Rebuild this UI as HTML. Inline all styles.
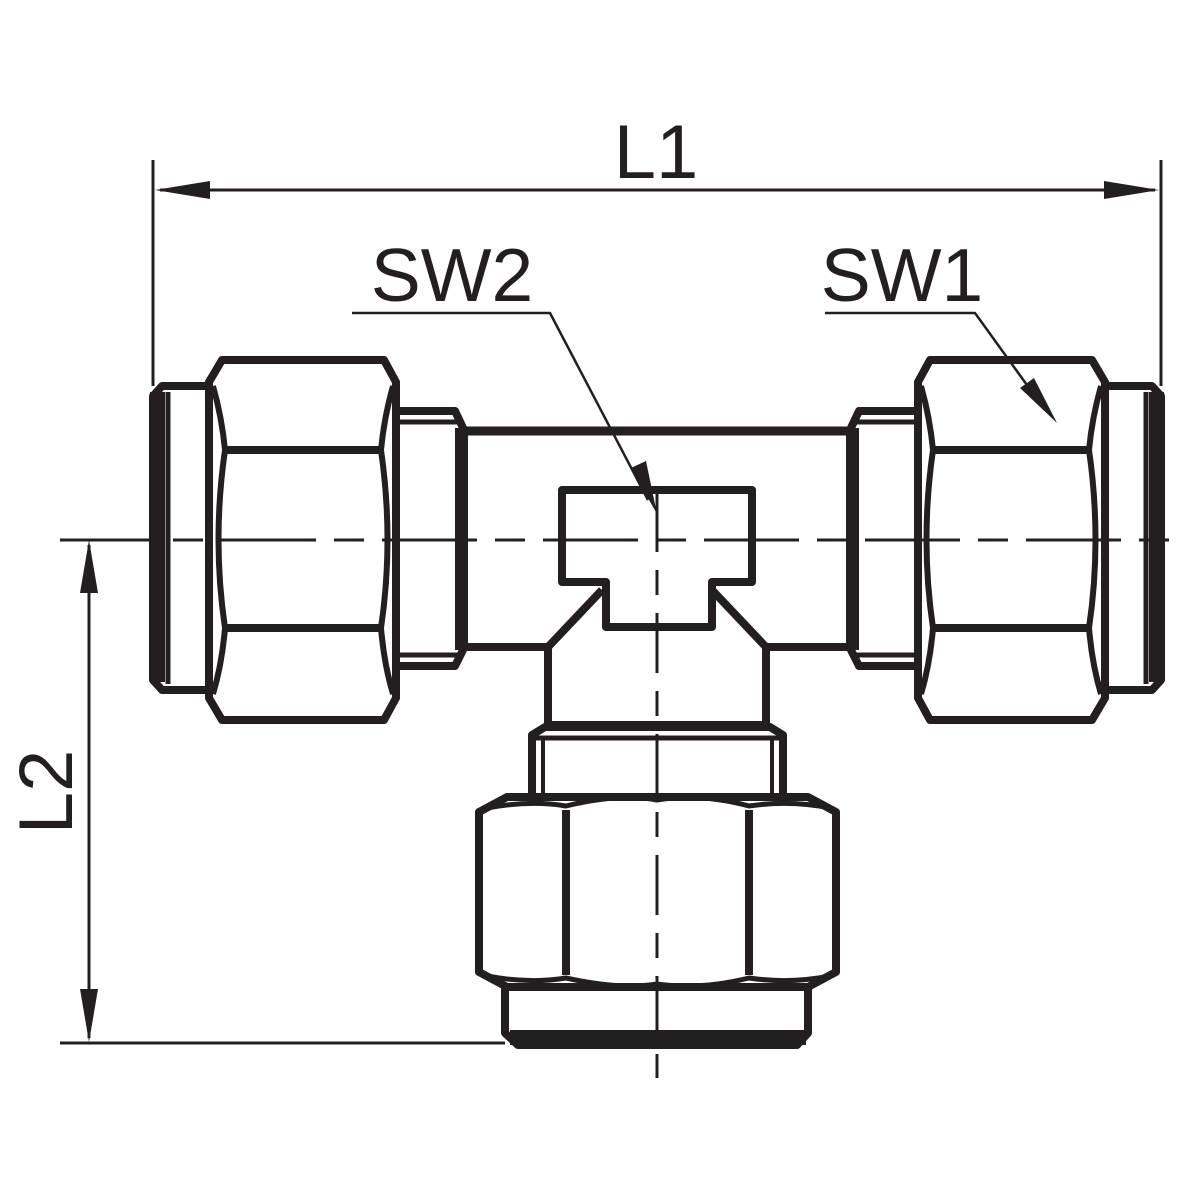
<!DOCTYPE html>
<html><head><meta charset="utf-8"><style>
html,body{margin:0;padding:0;background:#fff;}
svg{display:block;}
text{font-family:"Liberation Sans",sans-serif;fill:#231f20;}
</style></head><body>
<svg width="1200" height="1200" viewBox="0 0 1200 1200" xmlns="http://www.w3.org/2000/svg">
<g fill="none" stroke="#231f20" stroke-linejoin="round">
<!-- center lines -->
<line x1="60" y1="540" x2="1182" y2="540" stroke-width="3" stroke-dasharray="95 18 30 18"/>
<line x1="657" y1="492" x2="657" y2="1078" stroke-width="3" stroke-dasharray="60 18 25 18"/>

<!-- left fitting -->
<g id="side" stroke-width="8">
  <path d="M205,386 L162,386 L153,396 L153,680 L162,690 L205,690"/>
  <rect x="150" y="392" width="15" height="290" fill="#231f20" stroke="none"/>
  <line x1="168" y1="392" x2="168" y2="684" stroke-width="5"/>
  <path d="M222,360 L384,360 L396,382 L396,698 L384,720 L222,720 L209,698 L209,382 Z"/>
  <line x1="222" y1="450" x2="384" y2="450"/>
  <line x1="222" y1="628" x2="384" y2="628"/>
  <path d="M213,386 Q222,418 225,450 Q212,540 225,628 Q222,664 213,694" stroke-width="6"/>
  <path d="M393,386 Q384,418 381,450 Q394,540 381,628 Q384,664 393,694" stroke-width="6"/>
  <path d="M398,411 L455,411 L464,430 L464,648 L455,666 L398,666"/>
  <line x1="398" y1="422" x2="458" y2="422" stroke-width="5"/>
  <line x1="398" y1="655" x2="458" y2="655" stroke-width="5"/>
  <rect x="455" y="428" width="12" height="222" fill="#231f20" stroke="none"/>
</g>
<use href="#side" transform="translate(1314,0) scale(-1,1)"/>

<!-- body -->
<line x1="465" y1="431" x2="849" y2="431" stroke-width="9"/>
<path d="M465,647 L548,647 L602,590" stroke-width="8"/>
<path d="M849,647 L766,647 L712,590" stroke-width="8"/>
<path d="M562,490 L752,490 L752,582 L712,582 L712,627 L606,627 L606,582 L562,582 Z" stroke-width="8"/>

<!-- neck -->
<path d="M548,647 L548,725 M766,647 L766,725" stroke-width="8"/>
<path d="M548,725 L766,725" stroke-width="8"/>
<path d="M532,797 L532,735 L545,727 L770,727 L783,735 L783,797" stroke-width="8"/>
<line x1="535" y1="738" x2="780" y2="738" stroke-width="5"/>
<line x1="543" y1="738" x2="543" y2="797" stroke-width="4"/>
<line x1="772" y1="738" x2="772" y2="797" stroke-width="4"/>

<!-- bottom hex -->
<path d="M507,797 L808,797 L836,812 L836,972 L808,987 L507,987 L479,972 L479,812 Z" stroke-width="8"/>
<line x1="566" y1="810" x2="566" y2="975" stroke-width="8"/>
<line x1="749" y1="810" x2="749" y2="975" stroke-width="8"/>
<path d="M487,808 Q530,800 566,806 Q620,793 657,800 Q700,793 749,806 Q790,800 830,808" stroke-width="5"/>
<path d="M487,976 Q530,984 566,978 Q620,990 657,984 Q700,990 749,978 Q790,984 830,976" stroke-width="5"/>

<!-- bottom cap -->
<path d="M505,987 L505,1033 L518,1045 L797,1045 L808,1033 L808,987" stroke-width="8"/>
<rect x="510" y="1030" width="296" height="15" fill="#231f20" stroke="none"/>

<!-- L1 dimension -->
<line x1="153" y1="160" x2="153" y2="386" stroke-width="3"/>
<line x1="1161" y1="160" x2="1161" y2="386" stroke-width="3"/>
<line x1="160" y1="190" x2="1155" y2="190" stroke-width="3"/>
<!-- L2 dimension -->
<line x1="60" y1="1043" x2="505" y2="1043" stroke-width="3"/>
<line x1="89" y1="545" x2="89" y2="1038" stroke-width="3"/>
<!-- leaders -->
<polyline points="352,313 550,313 648,500" stroke-width="2.5"/>
<polyline points="825,313 975,313 1045,410" stroke-width="2.5"/>
</g>
<g fill="#231f20">
<polygon points="155,190 210,181 210,199"/>
<polygon points="1159,190 1104,181 1104,199"/>
<polygon points="89,540 80,593 98,593"/>
<polygon points="89,1042 80,989 98,989"/>
<polygon points="657,514 631,468 646,461"/>
<polygon points="1057,423 1020,388 1034,378"/>
</g>
<text x="656" y="178" font-size="76" text-anchor="middle">L1</text>
<text x="452" y="301" font-size="75" text-anchor="middle">SW2</text>
<text x="902" y="301" font-size="75" text-anchor="middle">SW1</text>
<text x="0" y="0" font-size="76" text-anchor="middle" transform="translate(72,792) rotate(-90)">L2</text>
</svg>
</body></html>
